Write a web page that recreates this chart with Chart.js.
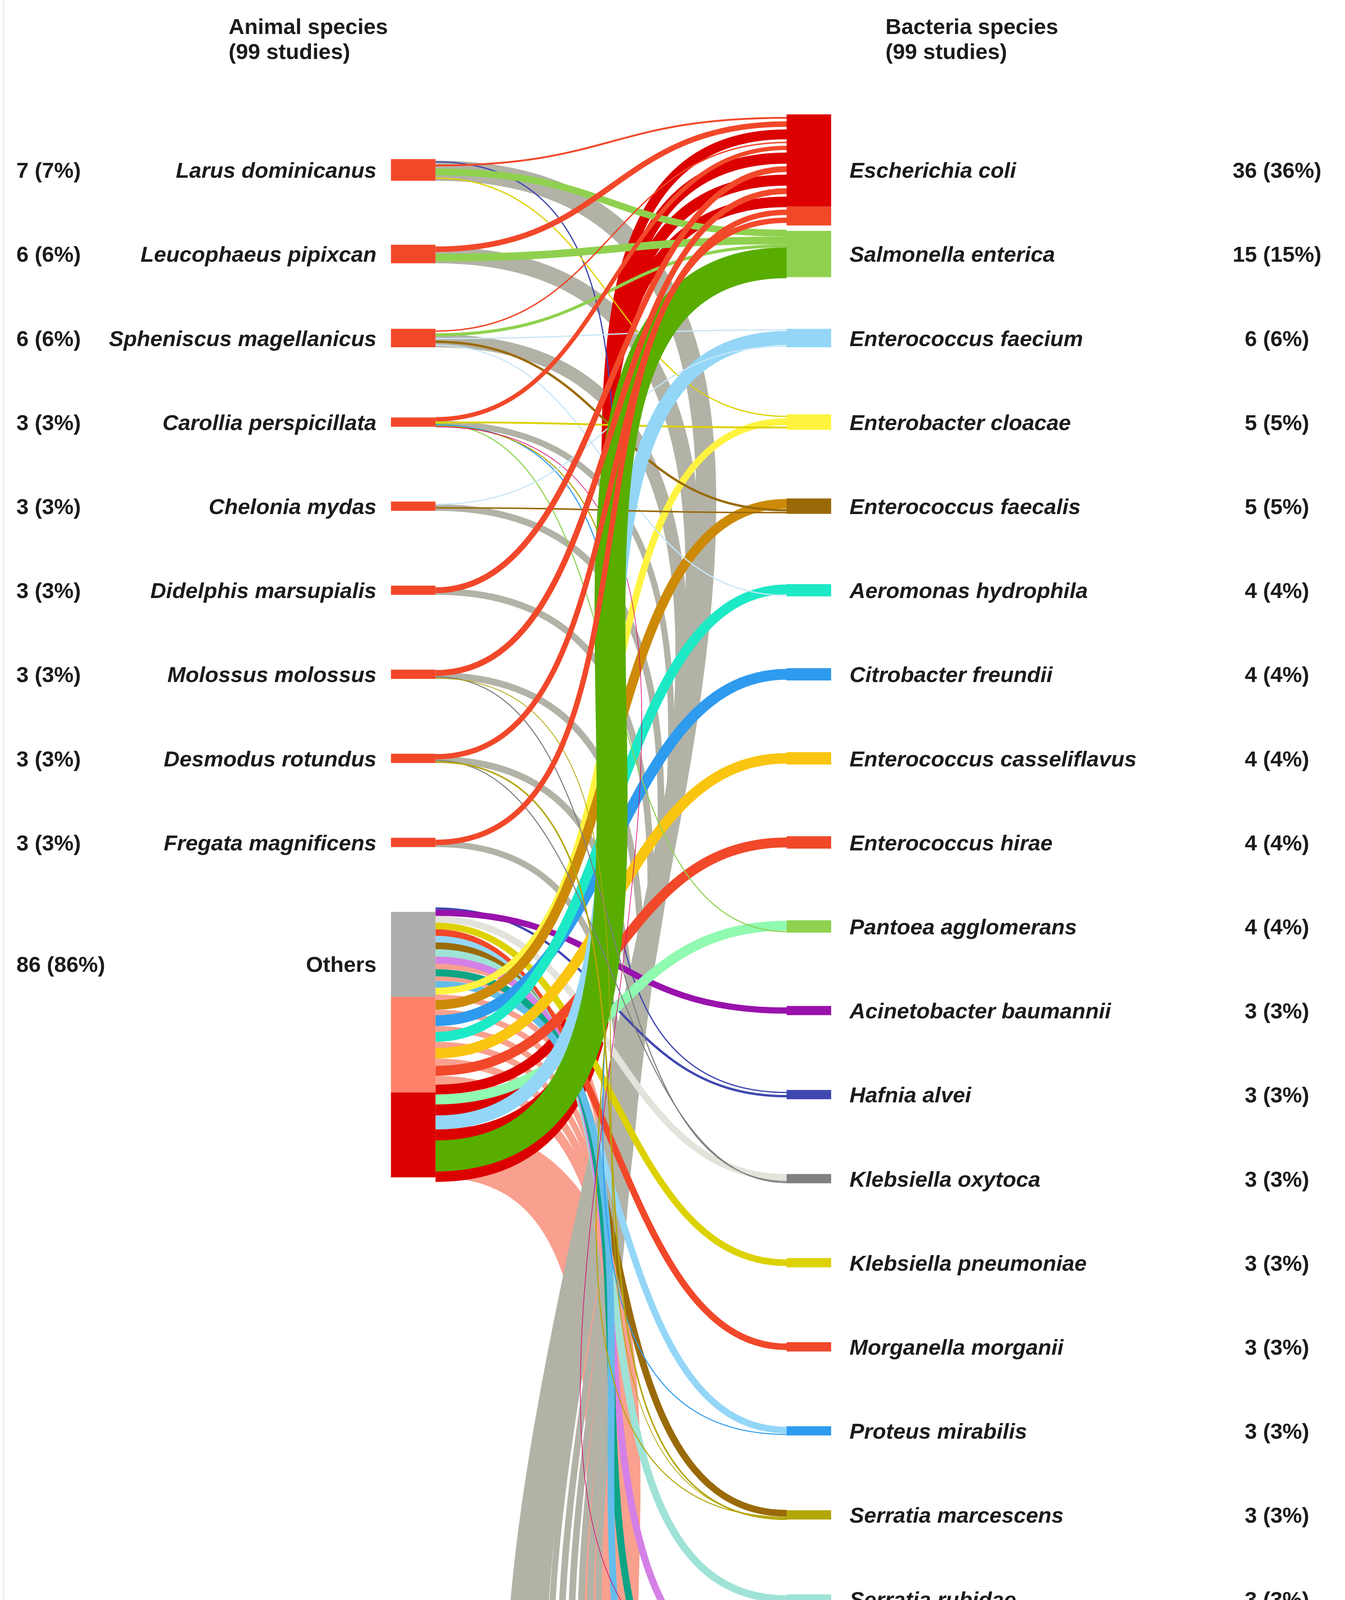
<!DOCTYPE html>
<html>
<head>
<meta charset="utf-8">
<script src="https://cdn.jsdelivr.net/npm/chart.js@4.4.1/dist/chart.umd.min.js"></script>
<style>
  html, body { margin: 0; padding: 0; background: #fff; }
  #wrap { width: 3442px; height: 5450px; position: relative; }
</style>
</head>
<body>
<div id="wrap"><canvas id="myChart"></canvas></div>
<script>
// left column: animal species, top to bottom
var animals = ["Larus dominicanus", "Leucophaeus pipixcan", "Spheniscus magellanicus", "Carollia perspicillata",
    "Chelonia mydas", "Didelphis marsupialis", "Molossus molossus", "Desmodus rotundus", "Fregata magnificens", "Others"];
var animalStudies = [7, 6, 6, 3, 3, 3, 3, 3, 3, 86];
var animalPct = [7, 6, 6, 3, 3, 3, 3, 3, 3, 86];

// right column: bacteria species, top to bottom
var bacteria = ["Escherichia coli", "Salmonella enterica", "Enterococcus faecium", "Enterobacter cloacae",
    "Enterococcus faecalis", "Aeromonas hydrophila", "Citrobacter freundii", "Enterococcus casseliflavus",
    "Enterococcus hirae", "Pantoea agglomerans", "Acinetobacter baumannii", "Hafnia alvei", "Klebsiella oxytoca",
    "Klebsiella pneumoniae", "Morganella morganii", "Proteus mirabilis", "Serratia marcescens", "Serratia rubidae",
    "Stenotrophomonas maltophilia", "Vibrio parahaemolyticus", "Enterococcus durans", "Others"];
var bacteriaStudies = [36, 15, 6, 5, 5, 4, 4, 4, 4, 4, 3, 3, 3, 3, 3, 3, 3, 3, 3, 3, 3, 63];
var bacteriaPct = [36, 15, 6, 5, 5, 4, 4, 4, 4, 4, 3, 3, 3, 3, 3, 3, 3, 3, 3, 3, 3, 63];

var titles = [["Animal species", "(99 studies)"], ["Bacteria species", "(99 studies)"]];

// colours
var col = {
    orange: "#F2482A", red: "#DC0000", gray: "#B2B2A6", grayNode: "#ADADAD", salmon: "#F9A08F",
    salmonNode: "#FF8169", green: "#8FD14F", darkGreen: "#58AD00", lightBlue: "#93D6F7", paleBlue: "#C9E7F7",
    yellow: "#FFF340", kpYellow: "#DDD200", brown: "#9A6A08", goldBrown: "#CC8A08", turquoise: "#1DE9C6",
    blue: "#2E9BEE", gold: "#F9C510", mint: "#90FAB0", purple: "#9912AC", indigo: "#3F48B0", darkGray: "#808080",
    pale: "#E3E3DB", olive: "#B3A60A", paleTeal: "#9EE3D6", violet: "#D580E6", magenta: "#D6006E",
    vibrio: "#0BA586", sky: "#63BDEA"
};
var bacteriaColors = [col.red, col.green, col.lightBlue, col.yellow, col.brown, col.turquoise, col.blue, col.gold,
    col.orange, col.green, col.purple, col.indigo, col.darkGray, col.kpYellow, col.orange, col.blue, col.olive,
    col.paleTeal, col.purple, col.vibrio, col.sky, col.salmon];

// links: [animal, bacterium, width (studies), colour, kind]
// kind: "base"  = lies under both nodes, pushed to the far edge
//       "under" = lies under the source node, stacked at the target
//       "back" / "front" = stacked at both ends, drawn behind / in front
// stacking at every node follows the order of this array
var links = [
    [0, 11, 0.4, col.indigo, "front"],
    [0, 0, 0.6, col.orange, "front"],
    [0, 1, 2.2, col.green, "front"],
    [0, 3, 0.4, col.kpYellow, "front"],
    [1, 0, 1.8, col.orange, "front"],
    [1, 1, 2.5, col.green, "front"],
    [9, 21, 17.5, col.salmon, "base"],
    [8, 21, 2.0, col.gray, "under"],
    [9, 11, 0.75, col.indigo, "front"],
    [9, 10, 2.0, col.purple, "front"],
    [9, 12, 2.15, col.pale, "front"],
    [9, 13, 2.15, col.kpYellow, "front"],
    [9, 14, 2.15, col.orange, "front"],
    [9, 15, 2.15, col.lightBlue, "front"],
    [9, 16, 2.2, col.brown, "front"],
    [9, 17, 2.4, col.paleTeal, "front"],
    [9, 18, 2.3, col.violet, "front"],
    [9, 21, 1.8, col.salmon, "back"],
    [7, 21, 2.15, col.gray, "under"],
    [9, 19, 2.3, col.vibrio, "front"],
    [9, 21, 1.5, col.salmon, "back"],
    [6, 21, 2.15, col.gray, "under"],
    [9, 20, 2.2, col.sky, "front"],
    [9, 3, 2.2, col.yellow, "front"],
    [9, 21, 1.8, col.salmon, "back"],
    [5, 21, 2.15, col.gray, "under"],
    [9, 4, 3.1, col.goldBrown, "front"],
    [9, 21, 1.8, col.salmon, "back"],
    [4, 21, 2.15, col.gray, "under"],
    [9, 6, 3.5, col.blue, "front"],
    [9, 21, 1.9, col.salmon, "back"],
    [3, 21, 2.0, col.gray, "under"],
    [9, 5, 3.2, col.turquoise, "front"],
    [9, 21, 2.0, col.salmon, "back"],
    [2, 21, 4.2, col.gray, "under"],
    [9, 7, 3.4, col.gold, "front"],
    [9, 21, 2.4, col.salmon, "back"],
    [1, 21, 5.3, col.gray, "under"],
    [9, 8, 3.2, col.orange, "front"],
    [9, 21, 2.9, col.salmon, "back"],
    [0, 21, 6.5, col.gray, "under"],
    [9, 0, 3.2, col.red, "back"],
    [9, 9, 3.2, col.mint, "front"],
    [2, 0, 0.45, col.orange, "front"],
    [2, 1, 1.0, col.green, "front"],
    [2, 2, 0.4, col.paleBlue, "front"],
    [2, 4, 0.75, col.brown, "front"],
    [2, 5, 0.4, col.paleBlue, "front"],
    [3, 0, 1.4, col.orange, "front"],
    [3, 3, 0.6, col.kpYellow, "front"],
    [3, 9, 0.35, col.green, "front"],
    [3, 15, 0.35, col.blue, "front"],
    [3, 16, 0.35, col.olive, "front"],
    [3, 18, 0.2, col.magenta, "front"],
    [9, 0, 3.6, col.red, "back"],
    [9, 2, 4.5, col.lightBlue, "front"],
    [4, 2, 0.4, col.paleBlue, "front"],
    [4, 4, 0.5, col.brown, "front"],
    [5, 0, 1.9, col.orange, "front"],
    [9, 0, 3.6, col.red, "back"],
    [9, 1, 10, col.darkGreen, "front"],
    [6, 0, 1.9, col.orange, "front"],
    [6, 12, 0.35, col.darkGray, "front"],
    [6, 16, 0.25, col.olive, "front"],
    [9, 0, 3.4, col.red, "back"],
    [7, 0, 1.75, col.orange, "front"],
    [7, 12, 0.35, col.darkGray, "front"],
    [7, 16, 0.5, col.olive, "front"],
    [8, 0, 1.75, col.orange, "front"]
];

// node colour bands (fraction of height, colour)
var leftOthersBands = [[0.32, col.grayNode], [0.36, col.salmonNode], [0.32, col.red]];
var ecoliBands = [[0.83, col.red], [0.17, col.orange]];
var rightOthersBands = [[0.086, col.grayNode], [0.914, col.salmon]];

// layout
var W = 3442, H = 5450;
var unit = 7.9; // pixels per study
var layout = {
    leftX: 1057.5 / W, rightX: 2070 / W, nodeW: 114,
    firstSlot: 435 / unit, slotStep: 215.2 / unit,
    leftOthersGap: 178 / unit, rightOthersGap: 133 / unit, othersLabel: 133 / unit,
    maxGap: 20 / unit, curve: 0.41
};

function columnNodes(counts, othersGap) {
    var nodes = [];
    for (var i = 0; i < counts.length; i++) {
        var top;
        if (i < counts.length - 1) top = layout.firstSlot + i * layout.slotStep - counts[i] / 2;
        else top = layout.firstSlot + (i - 1) * layout.slotStep + othersGap;
        nodes.push({top: top, bottom: top + counts[i], center: top + counts[i] / 2});
    }
    return nodes;
}

var leftNodes = columnNodes(animalStudies, layout.leftOthersGap);
var rightNodes = columnNodes(bacteriaStudies, layout.rightOthersGap);
var ends = links.map(function () { return {}; });

function stackAt(top, bottom, list, key) {
    var sum = 0;
    list.forEach(function (i) { sum += links[i][2]; });
    var h = bottom - top;
    var gap = Math.max(0, Math.min(layout.maxGap, (h - sum) / (list.length + 1)));
    var y = sum > h ? top - (sum - h) / 2 : top + gap;
    list.forEach(function (i) {
        ends[i][key] = y + links[i][2] / 2;
        y += links[i][2] + gap;
    });
}

leftNodes.forEach(function (node, n) {
    var stacked = [];
    links.forEach(function (l, i) {
        if (l[0] != n) return;
        if (l[4] == "base" || l[4] == "under") ends[i].y0 = node.bottom - l[2] / 2;
        else stacked.push(i);
    });
    stackAt(node.top, node.bottom, stacked, "y0");
});

rightNodes.forEach(function (node, n) {
    var stacked = [], top = node.top, bottom = node.bottom;
    links.forEach(function (l, i) {
        if (l[1] != n) return;
        if (l[4] == "base") {
            if (leftNodes[l[0]].center > node.center) { ends[i].y1 = top + l[2] / 2; top += l[2]; }
            else { ends[i].y1 = bottom - l[2] / 2; bottom -= l[2]; }
        } else stacked.push(i);
    });
    stackAt(top, bottom, stacked, "y1");
});

// node rectangles as floating bars
var nodeBars = [], nodeColors = [];
function addNode(x, node, bands, color) {
    if (!bands) {
        nodeBars.push({x: x, y: [node.top, node.bottom]});
        nodeColors.push(color);
        return;
    }
    var y = node.top, h = node.bottom - node.top;
    bands.forEach(function (b) {
        nodeBars.push({x: x, y: [y, y + b[0] * h]});
        nodeColors.push(b[1]);
        y += b[0] * h;
    });
}
leftNodes.forEach(function (node, i) {
    addNode(layout.leftX, node, i == leftNodes.length - 1 ? leftOthersBands : null, col.orange);
});
rightNodes.forEach(function (node, i) {
    var bands = i == 0 ? ecoliBands : (i == rightNodes.length - 1 ? rightOthersBands : null);
    addNode(layout.rightX, node, bands, bacteriaColors[i]);
});

var layerOf = {base: 0, under: 1, back: 1, front: 2};
var drawOrder = links.map(function (l, i) { return i; });
drawOrder.sort(function (a, b) { return layerOf[links[a][4]] - layerOf[links[b][4]] || a - b; });

var linkPlugin = {
    id: "links",
    beforeDatasetsDraw: function (chart) {
        var ctx = chart.ctx, xs = chart.scales.x, ys = chart.scales.y;
        var x0 = xs.getPixelForValue(layout.leftX) + layout.nodeW / 2;
        var x1 = xs.getPixelForValue(layout.rightX) - layout.nodeW / 2;
        var D = x1 - x0;
        ctx.save();
        ctx.lineCap = "butt";
        drawOrder.forEach(function (i) {
            var l = links[i];
            var ya = ys.getPixelForValue(ends[i].y0);
            var yb = ys.getPixelForValue(ends[i].y1);
            var w = Math.abs(ys.getPixelForValue(l[2]) - ys.getPixelForValue(0));
            // long vertical runs get longer handles, so they swing out
            var k = Math.max(D / 2, layout.curve * Math.abs(yb - ya));
            ctx.beginPath();
            ctx.moveTo(x0, ya);
            ctx.bezierCurveTo(x0 + k, ya, x1 - k, yb, x1, yb);
            ctx.lineWidth = w;
            ctx.strokeStyle = l[3];
            ctx.stroke();
        });
        ctx.restore();
    }
};

var labelPlugin = {
    id: "labels",
    afterDatasetsDraw: function (chart) {
        var ctx = chart.ctx, xs = chart.scales.x, ys = chart.scales.y;
        var fs = 56, fam = "'Liberation Sans', Arial, sans-serif";
        var leftEdge = xs.getPixelForValue(layout.leftX) - layout.nodeW / 2;
        var rightEdge = xs.getPixelForValue(layout.rightX) + layout.nodeW / 2;
        ctx.save();
        ctx.fillStyle = "#1b1b1b";
        ctx.textBaseline = "alphabetic";

        function labelY(nodes, i) {
            var n = nodes[i];
            var c = i == nodes.length - 1 ? n.top + layout.othersLabel : n.center;
            return ys.getPixelForValue(c) + 0.36 * fs;
        }

        ctx.font = "bold " + fs + "px " + fam;
        ctx.textAlign = "left";
        ctx.fillText(titles[0][0], 585, 87);
        ctx.fillText(titles[0][1], 585, 151);
        ctx.fillText(titles[1][0], 2266, 87);
        ctx.fillText(titles[1][1], 2266, 151);

        animals.forEach(function (name, i) {
            var y = labelY(leftNodes, i);
            var last = i == animals.length - 1;
            ctx.font = (last ? "bold " : "italic bold ") + fs + "px " + fam;
            ctx.textAlign = "right";
            ctx.fillText(name, leftEdge - 37, y);
            ctx.font = "bold " + fs + "px " + fam;
            ctx.textAlign = "left";
            ctx.fillText(animalStudies[i] + " (" + animalPct[i] + "%)", 42, y);
        });

        bacteria.forEach(function (name, i) {
            var y = labelY(rightNodes, i);
            var last = i == bacteria.length - 1;
            ctx.font = (last ? "bold " : "italic bold ") + fs + "px " + fam;
            ctx.textAlign = "left";
            ctx.fillText(name, rightEdge + 47, y);
            ctx.font = "bold " + fs + "px " + fam;
            ctx.textAlign = "center";
            ctx.fillText(bacteriaStudies[i] + " (" + bacteriaPct[i] + "%)", 3268, y);
        });

        // faint frame lines at the left and bottom
        ctx.strokeStyle = "#EBEBEB";
        ctx.lineWidth = 3;
        ctx.beginPath();
        ctx.moveTo(9, 0);
        ctx.lineTo(9, 5434);
        ctx.lineTo(W, 5434);
        ctx.stroke();
        ctx.restore();
    }
};

var myChart = new Chart(document.getElementById("myChart").getContext("2d"), {
    type: "bar",
    data: {
        datasets: [{
            data: nodeBars,
            backgroundColor: nodeColors,
            barThickness: layout.nodeW,
            borderWidth: 0,
            borderSkipped: false,
            inflateAmount: 0
        }]
    },
    options: {
        responsive: true,
        maintainAspectRatio: false,
        animation: false,
        devicePixelRatio: 1,
        layout: {padding: 0},
        plugins: {legend: {display: false}, tooltip: {enabled: false}, title: {display: false}},
        scales: {
            x: {type: "linear", min: 0, max: 1, display: false, offset: false},
            y: {type: "linear", min: 0, max: H / unit, reverse: true, display: false}
        }
    },
    plugins: [linkPlugin, labelPlugin]
});
</script>
</body>
</html>
